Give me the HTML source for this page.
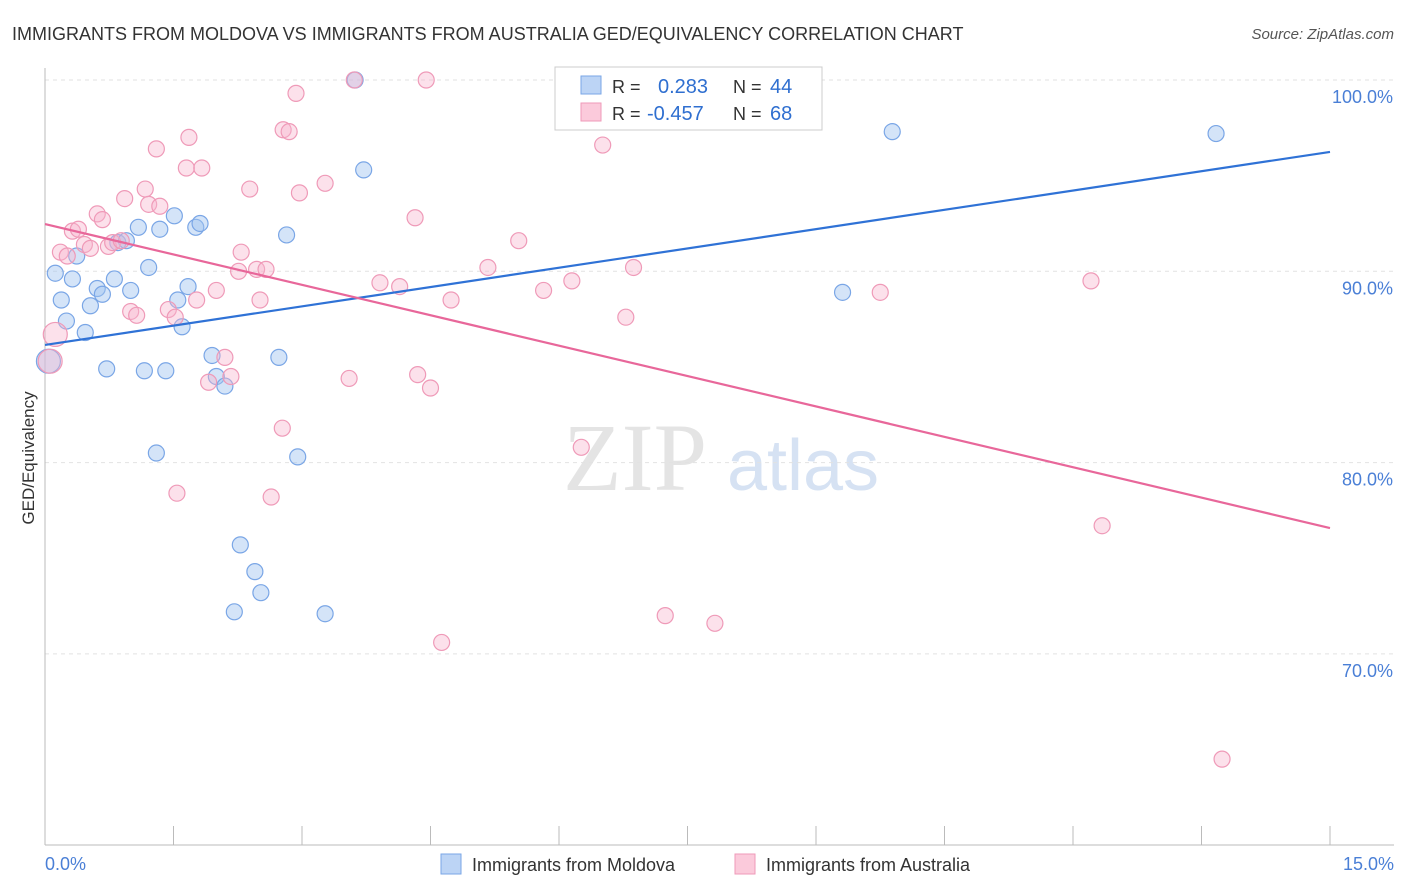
<!DOCTYPE html>
<html><head><meta charset="utf-8"><style>
body{margin:0;background:#fff;font-family:"Liberation Sans",sans-serif;}
svg{display:block}
</style></head><body>
<svg id="chart" width="1406" height="892" xmlns="http://www.w3.org/2000/svg">
<text x="12" y="40" font-size="18" fill="#333">IMMIGRANTS FROM MOLDOVA VS IMMIGRANTS FROM AUSTRALIA GED/EQUIVALENCY CORRELATION CHART</text>
<text x="1394" y="39" font-size="15" fill="#555" text-anchor="end" font-style="italic">Source: ZipAtlas.com</text>
<g>
<text x="635" y="490" font-size="96" font-family="Liberation Serif,serif" fill="#e4e4e4" text-anchor="middle">ZIP</text>
<text x="803" y="490" font-size="72" fill="#d6e2f3" text-anchor="middle">atlas</text>
</g>
<g id="grid"></g>
<g id="axes"></g>
<g id="pts"></g>
<g id="lines"></g>
<text transform="translate(34,458) rotate(-90)" font-size="17" fill="#333" text-anchor="middle">GED/Equivalency</text>
<g>
<rect x="555" y="67" width="267" height="63" fill="#fff" stroke="#ccc"/>
<rect x="581" y="76" width="20" height="18" fill="#bcd4f5" stroke="#7aa6e6"/>
<rect x="581" y="103" width="20" height="18" fill="#fbcadb" stroke="#ef9ab8"/>
<text x="612" y="93" font-size="18" fill="#333">R = </text><text x="658" y="93" font-size="20" fill="#2f6fd0">0.283</text>
<text x="733" y="93" font-size="18" fill="#333">N = </text><text x="770" y="93" font-size="20" fill="#2f6fd0">44</text>
<text x="612" y="120" font-size="18" fill="#333">R = </text><text x="647" y="120" font-size="20" fill="#2f6fd0">-0.457</text>
<text x="733" y="120" font-size="18" fill="#333">N = </text><text x="770" y="120" font-size="20" fill="#2f6fd0">68</text>
</g>
<g>
<rect x="441" y="854" width="20" height="20" fill="#bcd4f5" stroke="#7aa6e6"/>
<text x="472" y="871" font-size="18" fill="#333">Immigrants from Moldova</text>
<rect x="735" y="854" width="20" height="20" fill="#fbcadb" stroke="#ef9ab8"/>
<text x="766" y="871" font-size="18" fill="#333">Immigrants from Australia</text>
</g>
</svg>
<script>
const blueX=[0.04,0.12,0.19,0.32,0.37,0.25,0.47,0.53,0.61,0.67,0.72,0.81,0.85,0.95,1.0,1.09,1.16,1.21,1.3,1.34,1.41,1.51,1.55,1.6,1.67,1.76,1.81,1.95,2.0,2.1,2.21,2.28,2.45,2.52,2.73,2.82,2.95,3.27,3.62,3.72,7.98,9.31,9.89,13.67];
const blueY=[85.3,89.9,88.5,89.6,90.8,87.4,86.8,88.2,89.1,88.8,84.9,89.6,91.5,91.6,89.0,92.3,84.8,90.2,80.5,92.2,84.8,92.9,88.5,87.1,89.2,92.3,92.5,85.6,84.5,84.0,72.2,75.7,74.3,73.2,85.5,91.9,80.3,72.1,100.0,95.3,99.0,88.9,97.3,97.2];
const pinkX=[0.06,0.12,0.18,0.26,0.32,0.39,0.46,0.53,0.61,0.67,0.74,0.79,0.89,0.93,1.0,1.07,1.17,1.21,1.3,1.34,1.44,1.52,1.54,1.65,1.68,1.77,1.83,1.91,2.0,2.1,2.17,2.29,2.26,2.39,2.47,2.51,2.58,2.64,2.77,2.78,2.85,2.93,2.97,3.27,3.55,3.61,3.91,4.14,4.32,4.35,4.5,4.45,4.63,4.74,5.17,5.53,5.82,6.15,6.26,6.51,6.78,6.87,7.24,7.82,9.75,12.21,12.34,13.74];
const pinkY=[85.3,86.7,91.0,90.8,92.1,92.2,91.4,91.2,93.0,92.7,91.3,91.5,91.6,93.8,87.9,87.7,94.3,93.5,96.4,93.4,88.0,87.6,78.4,95.4,97.0,88.5,95.4,84.2,89.0,85.5,84.5,91.0,90.0,94.3,90.1,88.5,90.1,78.2,81.8,97.4,97.3,99.3,94.1,94.6,84.4,100.0,89.4,89.2,92.8,84.6,83.9,100.0,70.6,88.5,90.2,91.6,89.0,89.5,80.8,96.6,87.6,90.2,72.0,71.6,88.9,89.5,76.7,64.5];
const lineX=[0,15];
const blueLineY=[86.15,96.24];
const pinkLineY=[92.47,76.58];
const xTicks=[0,1.5,3,4.5,6,7.5,9,10.5,12,13.5,15];
const yTicks=[70,80,90,100];
const yTickLabels=["70.0%","80.0%","90.0%","100.0%"];
const NS="http://www.w3.org/2000/svg";
const sx=v=>45+v*(1285/15);
const sy=v=>80+(100-v)*19.13;
function mk(tag,attrs,parent){const e=document.createElementNS(NS,tag);for(const k in attrs)e.setAttribute(k,attrs[k]);parent.appendChild(e);return e;}
const grid=document.getElementById('grid'),axes=document.getElementById('axes'),pts=document.getElementById('pts'),lines=document.getElementById('lines');
yTicks.forEach((t,i)=>{
 const l=mk('line',{x1:45,x2:1394,y1:sy(t),y2:sy(t),stroke:'#e2e2e2','stroke-dasharray':'4,4'},grid);
 
 
 const tx=mk('text',{x:1393,y:sy(t)+23,'font-size':18,fill:'#4a7fd6','text-anchor':'end'},axes);
 tx.textContent=yTickLabels[i];
 
 
});
mk('line',{x1:45,x2:45,y1:68,y2:845,stroke:'#bbb'},axes);
mk('line',{x1:45,x2:1394,y1:845,y2:845,stroke:'#bbb'},axes);
xTicks.forEach(t=>{const l=mk('line',{x1:sx(t),x2:sx(t),y1:826,y2:845,stroke:'#bbb'},axes);
 
 });
const x0=mk('text',{x:45,y:870,'font-size':18,fill:'#4a7fd6'},axes);x0.textContent='0.0%';


const x1=mk('text',{x:1394,y:870,'font-size':18,fill:'#4a7fd6','text-anchor':'end'},axes);x1.textContent='15.0%';


blueX.forEach((v,i)=>{const c=mk('circle',{cx:sx(v),cy:sy(blueY[i]),r:i==0?12:8,fill:'rgba(160,195,240,0.45)',stroke:'#7aa6e6','stroke-width':1.2},pts);
 
 });
pinkX.forEach((v,i)=>{const c=mk('circle',{cx:sx(v),cy:sy(pinkY[i]),r:i<2?12:8,fill:'rgba(248,180,205,0.4)',stroke:'#ef9ab8','stroke-width':1.2},pts);
 
 });
const bl=mk('line',{x1:sx(lineX[0]),y1:sy(blueLineY[0]),x2:sx(lineX[1]),y2:sy(blueLineY[1]),stroke:'#2f72d6','stroke-width':2.2},lines);


const pl=mk('line',{x1:sx(lineX[0]),y1:sy(pinkLineY[0]),x2:sx(lineX[1]),y2:sy(pinkLineY[1]),stroke:'#e8679a','stroke-width':2.2},lines);


</script>
</body></html>
